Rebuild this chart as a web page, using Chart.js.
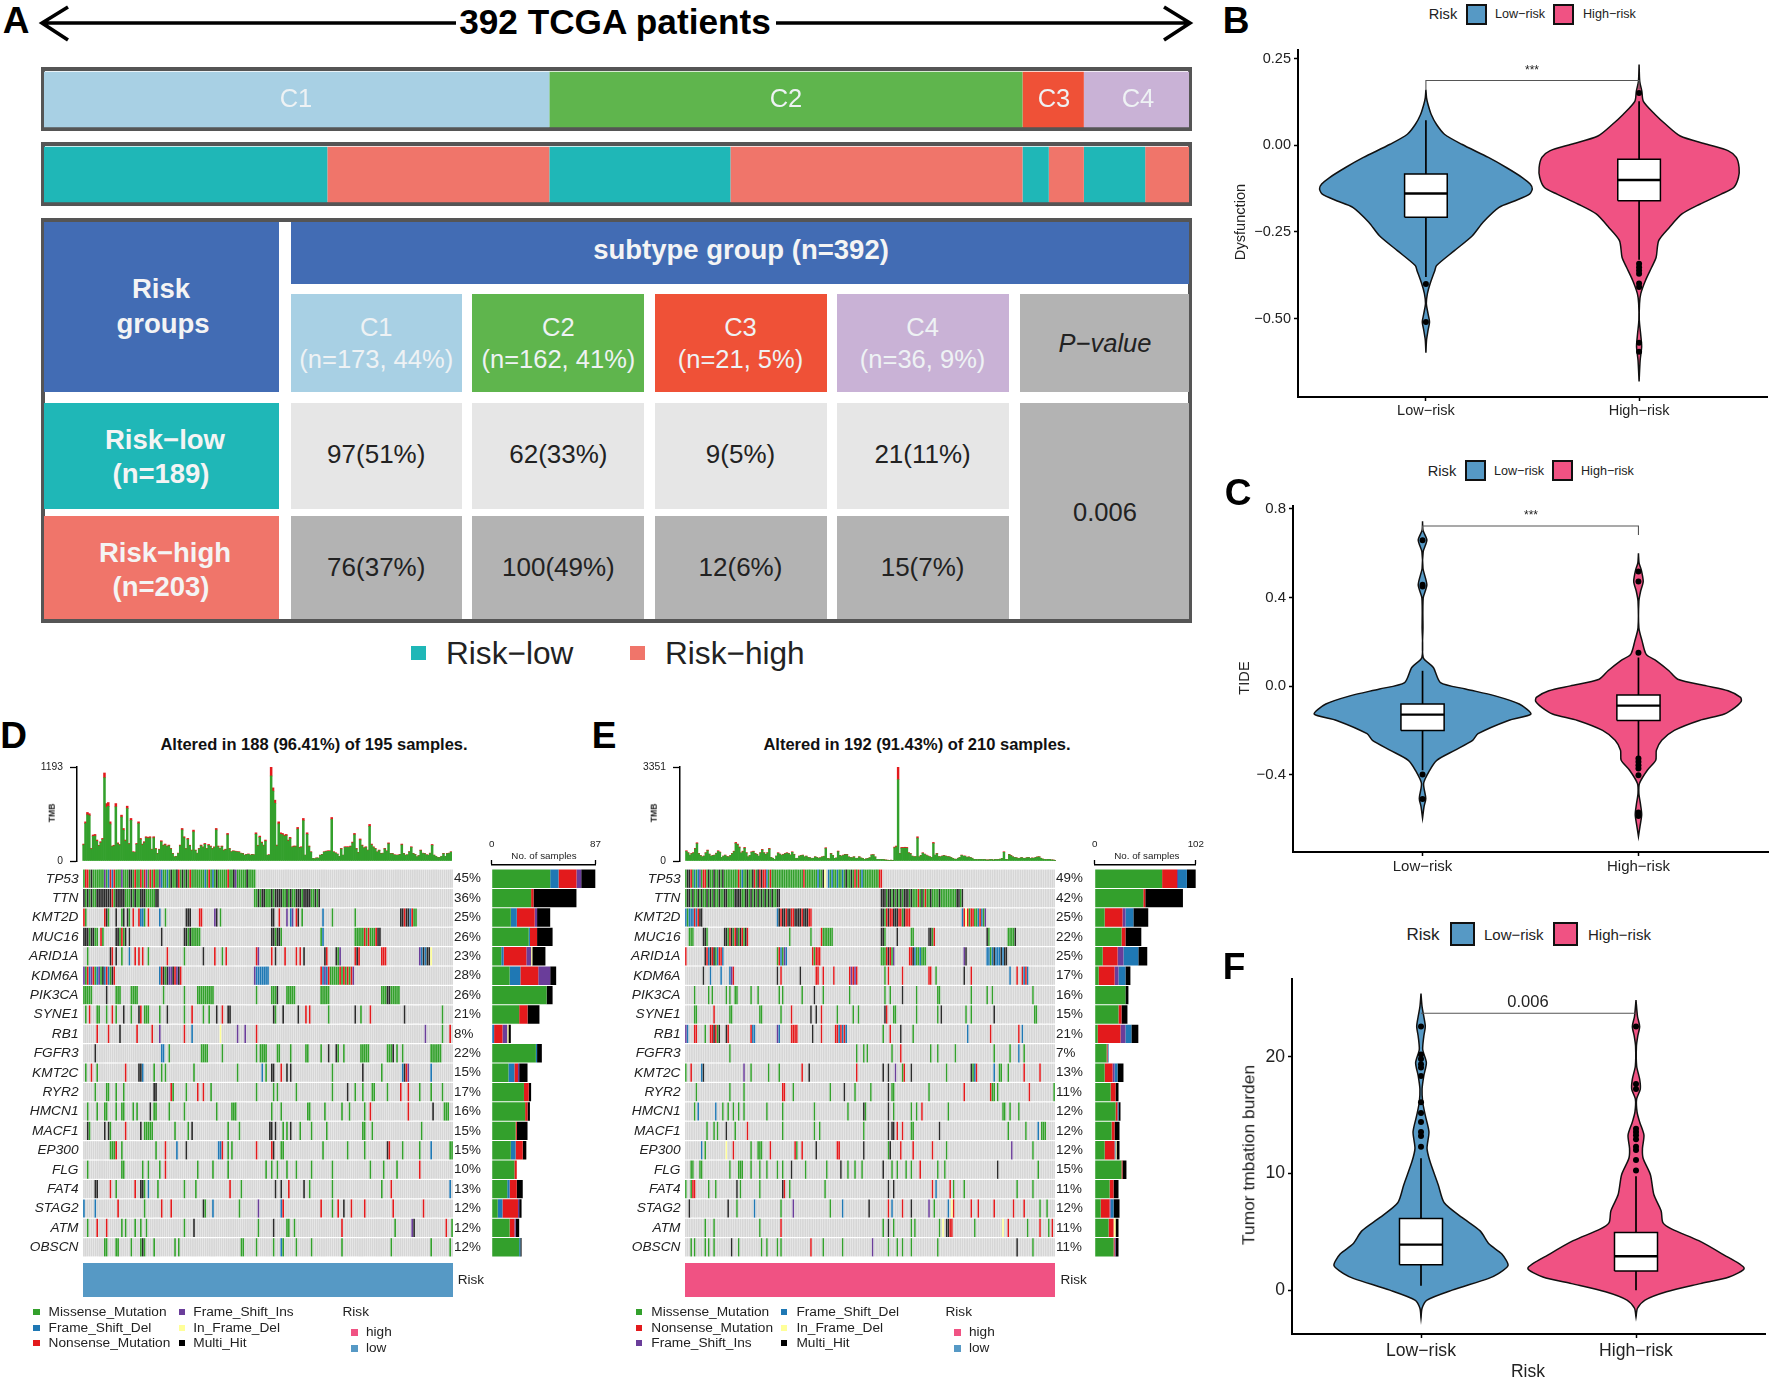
<!DOCTYPE html>
<html>
<head>
<meta charset="utf-8">
<title>Risk groups, subtypes and mutations</title>
<script src="https://cdn.jsdelivr.net/npm/chart.js@4"></script>
<style>
  html, body { margin: 0; background: #fff; }
  #page { position: relative; width: 1772px; height: 1380px; overflow: hidden; font-family: "Liberation Sans", Arial, sans-serif; }
  #page canvas { position: absolute; }
  .txt { position: absolute; white-space: nowrap; line-height: 1; color: #222; }
  .box { position: absolute; box-sizing: border-box; }
</style>
</head>
<body>
<div id="page"></div>
<script>
// ---------- panel A ----------
const subtypeNames = ['C1', 'C2', 'C3', 'C4'];
const subtypeCounts = [173, 162, 21, 36];
const riskLowCounts = [97, 62, 9, 21];
const riskHighCounts = [76, 100, 12, 15];
const subtypeHeads = ['(n=173, 44%)', '(n=162, 41%)', '(n=21, 5%)', '(n=36, 9%)'];
const lowCells = ['97(51%)', '62(33%)', '9(5%)', '21(11%)'];
const highCells = ['76(37%)', '100(49%)', '12(6%)', '15(7%)'];
const subtypeColors = ['#a8d0e4', '#5fb54d', '#ef5137', '#c9b2d6'];

// ---------- violins: y = value, w = half width in category units ----------
const dysLowY = [.161, .137, .118, .089, .060, .032, .003, -.035, -.064, -.093, -.112, -.126, -.141, -.160, -.179, -.222, -.261, -.304, -.347, -.361, -.399, -.428, -.457, -.486, -.510, -.534, -.562, -.599];
const dysLowW = [0, .003, .01, .025, .05, .087, .168, .293, .377, .452, .489, .499, .486, .419, .343, .268, .218, .134, .05, .042, .02, .007, .002, .01, .017, .01, .003, 0];
const dysLowBox = [-.380, -.208, -.139, -.083, .072];
const dysLowOut = [-.40, -.51];
const dysHighY = [.233, .185, .156, .127, .089, .060, .027, .003, -.016, -.035, -.064, -.093, -.122, -.141, -.170, -.198, -.237, -.275, -.323, -.352, -.390, -.428, -.457, -.505, -.543, -.581, -.620, -.682];
const dysHighW = [0, .003, .013, .02, .075, .126, .193, .318, .419, .456, .469, .466, .444, .385, .285, .201, .142, .092, .08, .059, .03, .008, .002, .001, .007, .012, .005, 0];
const dysHighBox = [-.33, -.160, -.100, -.040, .127];
const dysHighOut = [.151, -.342, -.352, -.361, -.371, -.399, -.409, -.570, -.596];
const dysBracket = [.161, .187, .161];

const tideLowY = [.744, .704, .659, .607, .532, .457, .398, .263, .129, .084, .016, -.013, -.043, -.081, -.126, -.155, -.215, -.245, -.290, -.335, -.380, -.439, -.507, -.544, -.596];
const tideLowW = [0, .002, .02, .003, .002, .02, .003, .002, .003, .05, .083, .199, .332, .448, .502, .398, .257, .232, .149, .066, .033, .005, .015, .007, 0];
const tideLowBox = [-.380, -.200, -.129, -.081, .069];
const tideLowOut = [.658, .457, .45, -.399, -.510];
const tideHighY = [.599, .555, .525, .472, .428, .383, .263, .203, .143, .114, .069, .031, .001, -.021, -.051, -.069, -.096, -.126, -.155, -.200, -.245, -.290, -.335, -.380, -.439, -.484, -.537, -.581, -.634, -.679];
const tideHighW = [0, .003, .013, .022, .01, .002, .002, .017, .036, .083, .141, .182, .315, .415, .473, .476, .448, .398, .282, .166, .108, .083, .08, .041, .005, .002, .01, .015, .007, 0];
const tideHighBox = [-.32, -.155, -.088, -.040, .129];
const tideHighOut = [.151, .517, .472, -.327, -.342, -.357, -.372, -.402, -.571, -.586];
const tideBracket = [.70, .723, .682];

const tmbLowY = [25.42, 24.29, 23.45, 22.6, 21.75, 20.62, 19.49, 18.36, 17.23, 16.1, 14.97, 13.56, 12.15, 11.02, 9.04, 7.49, 6.21, 5.08, 3.95, 3.11, 2.12, 1.41, .99, 0, -.85, -1.55, -2.4];
const tmbLowW = [0, .005, .013, .02, .013, .008, .025, .013, .005, .008, .02, .037, .028, .042, .08, .108, .192, .275, .317, .375, .405, .36, .312, .145, .028, .005, 0];
const tmbLowBox = [.37, 2.18, 3.9, 6.13, 11.3];
const tmbLowOut = [22.6, 20.2, 19.8, 19.35, 19.07, 18.36, 16.1, 15.17, 14.41, 13.56, 13.2, 12.29];
const tmbHighY = [24.86, 23.45, 22.6, 21.75, 20.9, 19.21, 18.08, 17.23, 16.38, 15.25, 14.41, 13.28, 12.15, 11.3, 9.89, 8.19, 6.78, 5.79, 5.23, 4.24, 3.11, 1.89, 1.13, .56, -.14, -.85, -1.55, -2.32];
const tmbHighW = [0, .007, .017, .008, .002, .003, .017, .02, .003, .005, .017, .037, .03, .033, .067, .083, .117, .125, .167, .292, .4, .503, .433, .3, .142, .042, .007, 0];
const tmbHighBox = [0, 1.64, 2.91, 4.94, 9.75];
const tmbHighOut = [22.6, 17.66, 17.23, 13.84, 13.56, 13.28, 12.94, 12.29, 12.0, 11.16, 10.25];
const tmbBracket = [23.73, 23.73, 23.73];

const riskNames = ['Low\u2212risk', 'High\u2212risk'];

// ---------- oncoplots ----------
const genes = ['TP53', 'TTN', 'KMT2D', 'MUC16', 'ARID1A', 'KDM6A', 'PIK3CA', 'SYNE1', 'RB1', 'FGFR3', 'KMT2C', 'RYR2', 'HMCN1', 'MACF1', 'EP300', 'FLG', 'FAT4', 'STAG2', 'ATM', 'OBSCN'];
const dPct = [45, 36, 25, 26, 23, 28, 26, 21, 8, 22, 15, 17, 16, 15, 15, 10, 13, 12, 12, 12];
const ePct = [49, 42, 25, 22, 25, 17, 16, 15, 21, 7, 13, 11, 12, 12, 12, 15, 11, 12, 11, 11];

// bars on the right, samples per gene and mutation class
const dSideMissense = [49, 33, 16, 31, 8, 15, 46, 23, 0, 37, 14, 27, 28, 20, 16, 19, 13, 5, 15, 23];
const dSideFrameDel = [7, 0, 5, 1, 2, 9, 0, 0, 2, 1, 5, 0, 0, 0, 4, 0, 2, 4, 0, 1];
const dSideNonsense = [15, 2, 15, 6, 19, 15, 0, 7, 7, 0, 3, 4, 2, 1, 6, 2, 6, 13, 4, 0];
const dSideFrameIns = [4, 0, 2, 0, 4, 10, 0, 0, 4, 0, 1, 0, 0, 0, 0, 0, 0, 1, 1, 0];
const dSideInFrame = [0, 0, 0, 0, 1, 0, 0, 0, 1, 0, 0, 0, 0, 0, 0, 0, 0, 0, 0, 0];
const dSideMulti = [12, 36, 11, 13, 11, 5, 5, 10, 2, 4, 7, 2, 2, 9, 3, 0, 5, 2, 3, 1];
const eSideMissense = [68, 49, 10, 27, 8, 4, 31, 24, 3, 12, 10, 16, 21, 17, 10, 27, 15, 6, 14, 19];
const eSideNonsense = [15, 2, 18, 4, 15, 16, 0, 3, 23, 1, 8, 5, 2, 3, 10, 1, 4, 9, 5, 1];
const eSideFrameIns = [1, 0, 3, 0, 6, 4, 0, 0, 5, 0, 2, 0, 0, 0, 0, 0, 0, 1, 0, 1];
const eSideFrameDel = [9, 0, 8, 0, 15, 7, 0, 0, 6, 1, 3, 0, 1, 0, 1, 0, 0, 3, 0, 0];
const eSideInFrame = [0, 0, 0, 0, 0, 0, 0, 0, 0, 0, 0, 0, 0, 0, 1, 0, 0, 0, 2, 0];
const eSideMulti = [9, 38, 15, 16, 9, 5, 3, 6, 7, 0, 6, 3, 2, 5, 3, 4, 5, 6, 3, 3];

// mutation burden per sample
const dTmbTotal = [215,497,616,600,160,330,337,266,200,245,287,1117,729,742,497,190,200,729,230,210,582,413,266,696,223,540,118,115,223,497,287,215,245,308,300,308,150,308,160,97,150,257,202,215,190,202,160,97,55,60,100,202,413,308,160,287,200,139,392,139,100,160,202,180,223,160,210,190,160,180,413,190,160,190,139,150,350,160,120,130,125,120,118,100,97,76,85,90,76,85,80,358,200,316,240,202,266,76,80,1193,928,772,202,497,358,350,330,337,266,300,181,190,190,426,175,181,540,76,358,190,118,34,30,40,38,76,85,118,125,130,130,552,118,105,90,60,160,76,181,181,181,190,240,350,160,110,280,202,170,181,140,464,215,181,160,118,139,97,100,160,130,230,97,97,80,76,76,85,215,97,76,80,120,181,97,85,55,70,139,100,97,80,76,100,210,76,60,46,46,60,97,60,97,100,118];
const dTmbNonsense = [12,22,30,25,10,18,20,15,10,15,15,60,50,48,28,10,10,42,12,10,25,22,15,30,12,25,8,8,12,22,15,12,14,15,15,15,8,15,10,6,8,14,10,12,10,10,8,6,4,4,6,10,20,15,8,14,10,8,22,8,6,8,10,10,12,8,12,10,8,10,20,10,8,10,8,8,18,8,6,6,6,6,6,5,5,4,5,5,4,5,4,18,10,16,12,10,14,4,4,114,42,40,12,26,18,18,16,16,14,15,10,10,10,22,9,10,28,4,20,10,6,3,3,3,3,4,5,6,6,7,7,25,6,6,5,4,8,4,10,10,10,10,12,18,8,6,14,10,8,10,7,24,12,10,8,6,7,5,5,8,7,12,5,5,4,4,4,5,12,5,4,4,6,10,5,5,3,4,8,5,5,4,4,5,12,4,3,3,3,3,5,3,5,5,6];
const eTmbTotal = [367,300,213,272,300,450,651,272,200,154,180,300,390,250,178,200,213,280,367,320,130,180,213,160,154,200,272,350,663,604,500,296,350,485,300,154,200,331,350,272,240,178,300,414,300,237,300,450,130,100,59,180,296,250,213,240,272,296,272,220,330,240,95,100,178,200,213,150,178,130,120,95,100,154,130,100,120,150,170,474,95,80,272,200,95,110,355,200,180,213,237,237,150,130,120,154,95,100,154,110,95,60,80,95,120,225,230,150,59,60,59,60,50,36,30,24,30,24,497,533,3351,272,485,485,490,485,300,272,178,154,160,864,154,200,296,250,213,180,154,130,663,213,272,160,154,178,200,178,160,154,130,95,70,59,100,130,213,180,178,130,150,130,100,59,60,50,59,60,50,59,40,36,50,59,36,59,50,59,70,95,331,59,50,237,200,154,130,120,95,100,130,100,95,120,130,95,110,100,130,150,154,100,70,59,50,60,59,40,36,24];
const eTmbNonsense = [25,20,15,18,20,25,35,18,12,10,12,18,25,15,10,12,14,18,25,20,8,12,14,10,10,12,18,22,40,35,30,18,22,30,18,10,12,20,22,18,15,10,18,25,18,15,18,28,8,6,4,10,18,15,14,15,18,18,18,14,20,15,6,6,10,12,14,10,10,8,8,6,6,10,8,6,8,10,10,30,6,5,18,12,6,7,22,12,10,14,15,15,10,8,8,10,6,6,10,7,6,4,5,6,8,14,14,10,4,4,4,4,3,3,2,2,2,2,30,32,450,18,30,30,30,30,18,18,10,10,10,50,10,12,18,15,14,10,10,8,40,14,18,10,10,10,12,10,10,10,8,6,5,4,6,8,14,10,10,8,10,8,6,4,4,3,4,4,3,4,3,3,3,4,3,4,3,4,5,6,20,4,3,15,12,10,8,8,6,6,8,6,6,8,8,6,7,6,8,10,10,6,5,4,3,4,4,3,2,2];

// mutated samples per gene, "start:classes", m missense, f frame del, n nonsense, i frame ins, d in frame, h multi hit
const dRows = [
  '0:mnnmhmmmmmmimfnfnmmmimmmhhmnmmnmnimnmnmmifmmfmhmmhnmhmhmnmmmmmmmfmnmfmhmmmmmnmmhimmmmmhmmmm',
  '0:hmhmhmmhhhhhhhhnmhhhhhmmmhmhmmhhhmmmmmhh 90:mmhmhhmmmhmhhhhmmhmhmmhhhmhhhhmmhmh',
  '0:nm 11:nhm 17:h 20:mh 23:hm 26:n 29:nff 32:m 34:n 40:f 43:m 54:hhh 61:nn 69:ih 72:m 99:hh 103:n 107:i 109:fi 112:nh 115:m 126:f 131:m 143:m 167:hhnhhfnmm',
  '0:hhhmhhmm.nm 17:hhmnmh 24:h 41:h 53:hhmhmmmmm 99:hhmhhm 125:mf 143:mmmmmnmnmmmnhh',
  '2:m 14:hn 17:h 20:m 24:f 27:n 29:n 31:n 34:m 44:n 53:m 63:h 69:n 73:m.n 91:ni 99:n 101:h 106:n 112:n 114:n 116:h 127:hn 133:hmi 143:nhn 157:nnn 177:ifhfhhd',
  '0:imnfinmfimhfnfmhn 40:fnhmhiihnihn 90:ifffffff 125:nfifnmmmmmnmnmnmni',
  '0:mmmmm 12:h 17:mmm 25:mmmm 42:m 53:m 60:mmmmmmmmm 91:m 99:mmmh 107:mmmmm 125:mmmmm 157:mmmhhmmmmm',
  '1:m 3:n 7:mm 12:m 15:n 17:m 21:h 25:m 29:hn 32:mm 34:m 40:m 44:h 53:m 57:n 63:m 66:m 70:h 73:n 76:hh 100:hm 105:h 113:h 117:n 119:n 129:m 143:h 146:m 151:n 169:h 189:m',
  '7:n 13:n 19:h 28:n 36:n 40:i 53:n 57:f 72:d 81:i 85:i 91:n 180:i 189:m 193:n',
  '6:h 41:ff 45:m 62:mmmm 73:m 91:m 93:mmmm 102:mm 109:m 117:mm 125:m 129:h 133:hm 137:m 146:mmmmm 160:mmmh 165:m 168:m 183:mmmmmm',
  '1:m 4:n 7:m 22:n 29:hhf 37:m 41:m 43:m 58:m 81:m 94:f 96:m 99:hh 104:n 107:h 109:h 131:m 147:h 157:m 168:fhni 183:f',
  '6:m 12:mm 17:m 21:m 37:hh 46:nm 54:m 60:n 63:n 67:m 91:m 100:m 102:m 112:m 131:m 139:h 143:m 147:m 152:mm 160:m 167:n 171:n 177:m 183:m 189:m',
  '2:m 7:m 11:mm 17:m 20:mm 26:m 28:m 35:h 37:mm 45:m 53:m 70:m 78:mmm 99:m 104:m 118:mm 127:m 136:m 140:m 148:m 151:n 171:n 184:h 190:mmm',
  '2:hm 11:h 13:hm 22:n 30:h 32:mmmmm 48:m 55:m 57:h 76:m 82:m 98:hh 101:h 105:m 107:m 109:h 114:m 120:m 128:m 147:mm 152:m 178:m',
  '14:mmmn 20:m 38:m 43:n 49:f 54:h 71:ffn 76:m 78:m 91:n 99:nh 104:mm 126:m 139:m 148:m 160:hn 168:m 177:m 183:f 193:mm',
  '2:m 20:mm 31:m 34:m 40:m 43:n 60:m 68:m 76:m 96:m 99:m 102:m 107:m 112:m 120:m 131:m 151:m 158:m 165:m 177:n',
  '6:hh 14:n 17:m 27:n 30:hhm 34:f 39:m 53:m 59:m 77:n 83:m 101:h 104:h 108:n 116:h 119:m 131:m 157:m 162:n 193:f',
  '0:f 6:f 18:n 32:m 41:n 46:n 63:hm 68:f 82:m 92:i 104:f 105:n 125:n 131:m 134:n 137:h 141:n 148:n 163:n 179:n',
  '2:m 7:n 12:n 20:m 22:m 27:m 30:m 33:m 53:m 58:h 92:m 100:h 107:mm 111:m 136:n 164:m 173:ih 191:n 194:m',
  '11:mm 17:mm 25:m 30:mhm 37:m 48:m 50:m 83:mm 91:m 100:m 104:fm 112:m 120:m 136:m 162:m 183:m 193:m'
];
const eRows = [
  '0:mhhnmfmfimnnmhmmhmmhmhmmmmmmmmnmfmmhmmhnmhnhnnfmnmmmmmmmmmmmmmmmmmmnmmmmmmmfmmhd.fmfmmfmmfmhmmhmnmnmfmmmmmmmmmnn',
  '0:mhhmhmmhmhmmhmhmhmmhmmhhmmmmhhhhmmhhmhmhmhmhmhmhmhmmhh 111:hhhmhhmhmhmhmhhhmhmmmnmhmnmmhmmmmhmmmmmmmmmhhmh',
  '0:fmfffnfnhh 52:fhnhhnhhnnhhhhnhhhnn 111:hhmnhnnhhhnnmhnnn 157:fndnmnnmmfnfmi',
  '2:mmm 10:hhm 22:hhmnhmnhmhnmhn 59:m 71:m 77:nmmmmmm 111:hhm 120:h 128:mm 138:hhmn 171:hm 183:mmmmh',
  '0:n 11:hnfhnhmfnnf 52:mnfmif 72:nmnnn 111:mmmnhnmi 127:nnhfmmfmmm 158:ih 171:ffmfhfffhfhh',
  '10:h 14:f 20:f 25:fin 52:h 54:n 65:h 74:nn 78:n 84:n 93:ninin 113:m 115:n 123:n 138:nn 142:m 158:h 162:n 184:f 188:n 191:nfnf',
  '5:m 13:m 15:m 23:m 25:m 28:mm 37:m 41:m 53:m 55:m 66:m 73:h 78:m 93:m 113:m 116:m 123:h 131:m 143:mm 162:m 171:m 174:m 197:m',
  '5:mm 16:n 25:mm 42:mm 54:m 60:n 71:h 74:h 77:n 86:m 95:m 98:m 113:hn 118:mm 131:m 143:m 145:h 159:m 162:m 175:h 198:mm',
  '0:if 5:nn 11:m 14:nnhnmh 23:hn 37:nff 52:if 60:nnnn 72:h 77:n 85:nnfnfnf 112:m 116:n 122:h 129:m 160:f 173:n 189:n 191:f',
  '25:m 97:m 101:m 103:m 117:m 122:n 139:m 143:m 153:m 175:m 184:m 189:f 192:m',
  '0:m 3:n 9:fh 33:i 37:m 47:m 53:m 66:n 70:h 97:n 112:h 115:h 119:i 123:mn 128:h 148:m 162:hmfn 175:f 178:mm 183:m 192:n 201:n',
  '6:m 25:m 33:m 55:nn 61:m 82:m 90:h 96:m 105:m 115:h 117:mm 138:m 158:n 173:n 174:mm 177:m 195:n 209:m',
  '5:m 7:f 17:f 21:m 24:m 27:m 30:m 33:m 46:m 55:m 73:m 92:m 101:hm 115:h 118:m 128:m 131:m 134:n 149:m 180:mm 184:m 189:m',
  '12:m 16:m 18:m 23:h 28:m 35:n 55:m 73:m 76:m 101:m 115:h 117:hh 120:n 123:n 128:mm 144:h 183:m 193:m 200:f 202:mmm',
  '9:f 11:m 23:d 27:n 37:m 41:mmm 48:n 62:nm 66:n 74:h 86:nn 101:h 115:mh 122:n 129:n 140:n 148:m 185:i 197:m',
  '3:mm 8:mm 25:m 30:mmm 37:m 42:m 46:m 52:m 55:m 60:h 68:m 80:m 88:h 92:m 96:m 100:m 112:h 117:m 120:m 125:m 128:m 133:n 143:m 147:m 177:h 200:m',
  '0:m 3:mnn 13:m 17:m 29:h 31:m 42:m 55:hn 59:m 79:m 115:h 118:h 140:n 142:f 150:n 152:m 158:m 188:m 197:m',
  '2:h 24:h 29:m 39:f 54:m 61:i 82:m 89:f 104:h 115:n 117:f 123:n 128:h 138:i 141:m 149:f 151:dn 162:n 166:n 175:n 186:n 192:n 201:m 205:m',
  '11:m 16:m 42:m 54:n 112:m 115:h 118:m 128:m 130:m 144:m 146:d 148:hh 150:nn 164:m 180:d 183:n 194:m 201:n 206:m 208:n',
  '3:m 5:m 11:m 13:m 16:m 26:h 30:m 43:m 46:m 52:m 54:m 71:n 78:m 89:m 106:i 115:m 120:m 123:m 128:m 143:m 188:h 197:m'
];
const dSampleCount = 195;
const eSampleCount = 210;

// ---------- helpers ----------
const page = document.getElementById('page');
const blue = '#5699c5', pink = '#f05283';
const cellColors = { m: '#33a02c', f: '#1f78b4', n: '#e31a1c', i: '#6a3d9a', d: '#ffff99', h: '#2a2a2a' };
const classColors = { m: '#33a02c', f: '#1f78b4', n: '#e31a1c', i: '#6a3d9a', d: '#ffff99', h: '#000000' };

Chart.defaults.font.family = '"Liberation Sans", Arial, sans-serif';
Chart.defaults.color = '#222';

function label(text, x, y, o) {
  o = o || {};
  const d = document.createElement('div');
  d.className = 'txt';
  d.textContent = text;
  d.style.left = x + 'px';
  d.style.top = y + 'px';
  d.style.fontSize = (o.size || 14) + 'px';
  if (o.bold) d.style.fontWeight = 'bold';
  if (o.italic) d.style.fontStyle = 'italic';
  if (o.color) d.style.color = o.color;
  const shift = o.align === 'l' ? '0' : o.align === 'r' ? '-100%' : '-50%';
  d.style.transform = 'translate(' + shift + ',-50%)' + (o.rotate ? ' rotate(-90deg)' : '');
  page.appendChild(d);
}

function rect(x0, y0, x1, y1, color, border) {
  const d = document.createElement('div');
  d.className = 'box';
  d.style.left = x0 + 'px';
  d.style.top = y0 + 'px';
  d.style.width = (x1 - x0) + 'px';
  d.style.height = (y1 - y0) + 'px';
  d.style.background = color;
  if (border) d.style.border = border;
  page.appendChild(d);
}

// plot area is x0..x1, y0..y1; m = [left, top, right, bottom] space around it, axes = sides taken by axes
function addChart(x0, y0, x1, y1, m, axes, config) {
  const c = document.createElement('canvas');
  c.width = Math.round(x1 - x0 + m[0] + m[2]);
  c.height = Math.round(y1 - y0 + m[1] + m[3]);
  c.style.left = (x0 - m[0]) + 'px';
  c.style.top = (y0 - m[1]) + 'px';
  page.appendChild(c);
  const o = config.options;
  o.responsive = false;
  o.animation = false;
  o.plugins = { legend: { display: false }, tooltip: { enabled: false } };
  o.layout = { padding: {
    left: axes.includes('l') ? 0 : m[0],
    top: axes.includes('t') ? 0 : m[1],
    right: axes.includes('r') ? 0 : m[2],
    bottom: axes.includes('b') ? 0 : m[3]
  } };
  return new Chart(c, config);
}

function hidden(extra) {
  return Object.assign({ display: false, grid: { display: false }, offset: false }, extra || {});
}

// ---------- panel A ----------
label('A', 16, 19.5, { size: 37, bold: true, color: '#000' });
label('392 TCGA patients', 615, 22, { size: 35.2, bold: true, color: '#000' });
page.insertAdjacentHTML('beforeend',
  '<svg style="position:absolute;left:0;top:0" width="1220" height="50" fill="none" stroke="#000" stroke-width="3.6">' +
  '<path d="M42 23H456M776 23H1190M68 7L42 23L68 40M1164 7L1190 23L1164 40"/></svg>');

rect(40.5, 67, 1192, 130.5, '#fff', '4px solid #555');
rect(40.5, 142, 1192, 205.5, '#fff', '4px solid #555');
rect(40.5, 217.7, 1192, 623, '#fff', '4px solid #555');

const barSets = [];
subtypeCounts.forEach((n, i) => barSets.push({ data: [n, null], backgroundColor: subtypeColors[i] }));
riskLowCounts.forEach((n, i) => {
  barSets.push({ data: [null, n], backgroundColor: '#1fb7b7' });
  barSets.push({ data: [null, riskHighCounts[i]], backgroundColor: '#f0756a' });
});
barSets.forEach(d => { d.barPercentage = 0.737; d.categoryPercentage = 1; });
addChart(44.4, 61.6, 1189, 211.2, [0, 0, 0, 0], '', {
  type: 'bar',
  data: { labels: ['subtype', 'risk'], datasets: barSets },
  options: {
    indexAxis: 'y',
    scales: {
      x: { display: false, stacked: true, min: 0, max: 392 },
      y: { display: false, stacked: true }
    }
  }
});
const paleText = '#eef2f4';
[296, 786, 1054, 1138].forEach((x, i) => label(subtypeNames[i], x, 99, { size: 25.5, color: paleText }));

rect(44.4, 221.6, 279.4, 392.4, '#426cb4');
rect(291, 221.6, 1189, 284, '#426cb4');
rect(44.4, 402.9, 279.4, 509, '#1fb7b7');
rect(44.4, 516, 279.4, 619, '#f0756a');
const colX = [[291, 461.5], [472.4, 644.4], [654.5, 826.5], [836.6, 1008.6]];
colX.forEach((c, i) => {
  const mid = (c[0] + c[1]) / 2;
  rect(c[0], 294.4, c[1], 392.4, subtypeColors[i]);
  rect(c[0], 402.9, c[1], 509, '#e6e6e6');
  rect(c[0], 516, c[1], 619, '#b3b3b3');
  label(subtypeNames[i], mid, 328, { size: 25.5, color: paleText });
  label(subtypeHeads[i], mid, 360, { size: 25.5, color: paleText });
  label(lowCells[i], mid, 454, { size: 26 });
  label(highCells[i], mid, 567, { size: 26 });
});
rect(1019.5, 294.4, 1189, 392.4, '#b3b3b3');
rect(1019.5, 402.9, 1189, 619, '#b3b3b3');
label('P\u2212value', 1105, 344, { size: 25.5, italic: true });
label('0.006', 1105, 512.6, { size: 25.5 });
label('subtype group (n=392)', 741, 250, { size: 27.5, bold: true, color: '#f4f4f4' });
label('Risk', 161, 289, { size: 27.5, bold: true, color: '#f4f4f4' });
label('groups', 163, 324, { size: 27.5, bold: true, color: '#f4f4f4' });
label('Risk\u2212low', 165, 440, { size: 27.5, bold: true, color: '#f4f4f4' });
label('(n=189)', 161, 473.6, { size: 27.5, bold: true, color: '#f4f4f4' });
label('Risk\u2212high', 165, 553, { size: 27.5, bold: true, color: '#f4f4f4' });
label('(n=203)', 161, 587, { size: 27.5, bold: true, color: '#f4f4f4' });
rect(411, 646, 426, 660, '#1fb7b7');
label('Risk\u2212low', 446, 654, { size: 31.6, align: 'l' });
rect(630, 646, 645, 660, '#f0756a');
label('Risk\u2212high', 665, 654, { size: 31.6, align: 'l' });

// ---------- violins ----------
function violinSets(pos, ys, ws, box, outs, color) {
  const outline = [];
  ys.forEach((y, i) => outline.push({ x: pos - ws[i], y: y }));
  for (let i = ys.length - 1; i >= 0; i--) outline.push({ x: pos + ws[i], y: ys[i] });
  const hw = 0.1;
  const line = { showLine: true, pointRadius: 0, fill: false, tension: 0 };
  return [
    Object.assign({}, line, { data: outline, order: 6, fill: 'shape', backgroundColor: color, borderColor: '#111', borderWidth: 1.5, tension: 0.25 }),
    Object.assign({}, line, { data: [{ x: pos, y: box[0] }, { x: pos, y: box[4] }], order: 5, borderColor: '#000', borderWidth: 1.7 }),
    Object.assign({}, line, { data: [{ x: pos - hw, y: box[1] }, { x: pos + hw, y: box[1] }, { x: pos + hw, y: box[3] }, { x: pos - hw, y: box[3] }, { x: pos - hw, y: box[1] }], order: 4, fill: 'shape', backgroundColor: '#fff', borderColor: '#000', borderWidth: 1.5 }),
    Object.assign({}, line, { data: [{ x: pos - hw, y: box[2] }, { x: pos + hw, y: box[2] }], order: 3, borderColor: '#000', borderWidth: 2.4 }),
    { data: outs.map(v => ({ x: pos, y: v })), order: 2, pointRadius: 3, backgroundColor: '#000', borderWidth: 0 }
  ];
}

function violinChart(x0, y0, x1, y1, yMin, yMax, yTicks, digits, fontSize, xPad, bracket, sets) {
  const brk = { showLine: true, pointRadius: 0, fill: false, tension: 0, order: 1, borderColor: '#555', borderWidth: 1.1,
    data: [{ x: 1, y: bracket[0] }, { x: 1, y: bracket[1] }, { x: 2, y: bracket[1] }, { x: 2, y: bracket[2] }] };
  const tickGrid = { drawOnChartArea: false, tickLength: 4, tickColor: '#000', tickWidth: 1.5 };
  const edge = { color: '#000', width: 2 };
  addChart(x0, y0, x1, y1, [54, 10, 4, 36], 'lb', {
    type: 'scatter',
    data: { datasets: sets.concat([brk]) },
    options: {
      scales: {
        x: {
          type: 'linear', min: 0.4, max: 2.6, grid: tickGrid, border: edge,
          ticks: { font: { size: fontSize }, color: '#222', padding: xPad, maxRotation: 0, callback: v => riskNames[v - 1] },
          afterBuildTicks: a => { a.ticks = [{ value: 1 }, { value: 2 }]; },
          afterFit: a => { a.height = 36; }
        },
        y: {
          min: yMin, max: yMax, grid: tickGrid, border: edge,
          ticks: { font: { size: fontSize }, color: '#222', padding: 3, callback: v => v.toFixed(digits).replace('-', '\u2212') },
          afterBuildTicks: a => { a.ticks = yTicks.map(v => ({ value: v })); },
          afterFit: a => { a.width = 54; }
        }
      }
    }
  });
}

function riskLegend(y, h, riskX, riskSize, sw1, sw2, t1, t2, w, size) {
  label('Risk', riskX, y, { size: riskSize });
  rect(sw1, y - h, sw1 + w, y + h, blue, '2px solid #111');
  label(riskNames[0], t1, y, { size: size, align: 'l' });
  rect(sw2, y - h, sw2 + w, y + h, pink, '2px solid #111');
  label(riskNames[1], t2, y, { size: size, align: 'l' });
}

label('B', 1236, 19.5, { size: 37, bold: true, color: '#000' });
riskLegend(14, 10.5, 1443, 14.6, 1466, 1553, 1495, 1583, 21, 12.6);
violinChart(1297.8, 48, 1767, 397, -.7265, .276, [-.5, -.25, 0, .25], 2, 14.5, 1, dysBracket,
  violinSets(1, dysLowY, dysLowW, dysLowBox, dysLowOut, blue).concat(violinSets(2, dysHighY, dysHighW, dysHighBox, dysHighOut, pink)));
label('Dysfunction', 1240, 222, { size: 14.6, rotate: true });
label('***', 1532, 70, { size: 12 });

label('C', 1238, 491.7, { size: 37, bold: true, color: '#000' });
riskLegend(470.7, 10.5, 1442, 14.6, 1465, 1552, 1494, 1581, 21, 12.6);
violinChart(1293.3, 504, 1768.6, 852.3, -.749, .813, [-.4, 0, .4, .8], 1, 15, 2, tideBracket,
  violinSets(1, tideLowY, tideLowW, tideLowBox, tideLowOut, blue).concat(violinSets(2, tideHighY, tideHighW, tideHighBox, tideHighOut, pink)));
label('TIDE', 1244, 678, { size: 14.6, rotate: true });
label('***', 1531, 515, { size: 12 });

label('F', 1234, 966, { size: 37, bold: true, color: '#000' });
riskLegend(934.3, 12, 1423, 17, 1450, 1553, 1484, 1588, 25, 15);
violinChart(1291.6, 975, 1764.4, 1334.3, -3.757, 26.7, [0, 10, 20], 0, 17.6, 3, tmbBracket,
  violinSets(1, tmbLowY, tmbLowW, tmbLowBox, tmbLowOut, blue).concat(violinSets(2, tmbHighY, tmbHighW, tmbHighBox, tmbHighOut, pink)));
label('Tumor tmbation burden', 1248.7, 1155, { size: 17.4, rotate: true });
label('0.006', 1528, 1000.7, { size: 16.5 });
label('Risk', 1528, 1371.7, { size: 17.5 });

// ---------- oncoplots ----------
function parseRow(row, count) {
  const cells = new Array(count).fill('');
  row.split(' ').forEach(tok => {
    const parts = tok.split(':');
    const start = parseInt(parts[0], 10);
    for (let i = 0; i < parts[1].length; i++) {
      if (parts[1][i] !== '.' && start + i < count) cells[start + i] = parts[1][i];
    }
  });
  return cells;
}

function oncoplot(cfg) {
  const n = cfg.count, px0 = cfg.x0, px1 = cfg.x1;
  const samples = [];
  for (let i = 0; i < n; i++) samples.push(String(i + 1));

  // burden bars on top, the axis sits a little left of the first sample
  const perSample = (px1 - px0) / n;
  const gap = (px0 - cfg.axisX) / perSample;
  const pick = (arr, minus) => samples.map((s, i) => ({ x: i, y: minus ? arr[i] - (minus[i] || 0) : (arr[i] || 0) }));
  addChart(cfg.axisX, 766.7, px1, 861, [40, 14, 2, 14], 'l', {
    type: 'bar',
    data: { datasets: [
      { data: pick(cfg.tmb, cfg.tmbRed), backgroundColor: classColors.m, barPercentage: 1, categoryPercentage: 1 },
      { data: pick(cfg.tmbRed), backgroundColor: classColors.n, barPercentage: 1, categoryPercentage: 1 }
    ] },
    options: {
      scales: {
        x: hidden({ type: 'linear', min: -0.5 - gap, max: n - 0.5, stacked: true }),
        y: {
          stacked: true, min: 0, max: cfg.tmbMax,
          grid: { drawOnChartArea: false, tickLength: 7, tickColor: '#000', tickWidth: 1.3 },
          border: { color: '#000', width: 1.5 },
          ticks: { font: { size: 10.3 }, color: '#222', padding: 7, callback: v => String(v) },
          afterBuildTicks: a => { a.ticks = [{ value: 0 }, { value: cfg.tmbMax }]; },
          afterFit: a => { a.width = 40; }
        }
      }
    }
  });
  label('TMB', cfg.tmbLabelX, 813, { size: 8.6, bold: true, rotate: true });
  label(cfg.title, cfg.titleX, 744, { size: 16.5, bold: true, color: '#111' });

  // gene by sample grid, one dataset per gene, one colour per sample
  const rowSets = cfg.rows.map((row, g) => {
    const cells = parseRow(row, n);
    return {
      data: samples.map(() => [g - 0.47, g + 0.47]),
      backgroundColor: cells.map(c => c ? cellColors[c] : '#d6d6d6'),
      borderWidth: 0, barPercentage: 0.88, categoryPercentage: 1, grouped: false
    };
  });
  addChart(px0, 869, px1, 1256.7, [80, 14, 40, 14], 'lr', {
    type: 'bar',
    data: { labels: samples, datasets: rowSets },
    options: {
      scales: {
        x: { display: false, grid: { display: false } },
        y: {
          reverse: true, min: -0.5, max: 19.5, position: 'left',
          grid: { display: false, drawTicks: false }, border: { display: false },
          ticks: { autoSkip: false, padding: 4.5, font: { size: 13.7, style: 'italic' }, color: '#222', callback: v => genes[v] },
          afterBuildTicks: a => { a.ticks = genes.map((g, i) => ({ value: i })); },
          afterFit: a => { a.width = 80; }
        },
        y2: {
          reverse: true, min: -0.5, max: 19.5, position: 'right',
          grid: { display: false, drawTicks: false }, border: { display: false },
          ticks: { autoSkip: false, padding: 1, font: { size: 13.4 }, color: '#222', callback: v => cfg.pct[v] + '%' },
          afterBuildTicks: a => { a.ticks = genes.map((g, i) => ({ value: i })); },
          afterFit: a => { a.width = 40; }
        }
      }
    }
  });

  // mutation classes per gene on the right
  addChart(cfg.sideX0, 865, cfg.sideX1, 1256.7, [12, 26, 14, 2], 't', {
    type: 'bar',
    data: { datasets: cfg.side.map(s => ({
      data: s.values.map((v, g) => ({ x: v, y: g })),
      backgroundColor: classColors[s.key], barPercentage: 0.95, categoryPercentage: 1
    })) },
    options: {
      indexAxis: 'y',
      scales: {
        x: {
          position: 'top', stacked: true, min: 0, max: cfg.sideMax,
          grid: { drawOnChartArea: false, tickLength: 5, tickColor: '#000', tickWidth: 1.3 },
          border: { color: '#000', width: 1.5 },
          ticks: { font: { size: 9.8 }, color: '#222', padding: 10, maxRotation: 0, callback: v => String(v) },
          afterBuildTicks: a => { a.ticks = [{ value: 0 }, { value: cfg.sideMax }]; },
          afterFit: a => { a.height = 26; }
        },
        y: hidden({ type: 'linear', reverse: true, min: -0.706, max: 19.5, stacked: true })
      }
    }
  });
  label('No. of samples', (cfg.sideX0 + cfg.sideX1) / 2, 856, { size: 9.8 });

  // risk annotation strip
  addChart(px0, 1262.7, px1, 1296.7, [0, 0, 0, 0], '', {
    type: 'bar',
    data: { labels: ['Risk'], datasets: [{ data: [n], backgroundColor: cfg.stripColor, barPercentage: 1, categoryPercentage: 1 }] },
    options: {
      indexAxis: 'y',
      scales: { x: { display: false, min: 0, max: n }, y: { display: false } }
    }
  });
  label('Risk', px1 + 5, 1280, { size: 13.6, align: 'l' });

  // class legend
  const rowsY = [1312, 1327.7, 1343];
  cfg.legend.forEach((col, c) => {
    col.forEach((e, r) => {
      rect(cfg.legendSq[c], rowsY[r] - 3.2, cfg.legendSq[c] + 6.4, rowsY[r] + 3.2, classColors[e[0]]);
      label(e[1], cfg.legendTx[c], rowsY[r], { size: 13.7, align: 'l' });
    });
  });
  label('Risk', cfg.riskX, 1312, { size: 13.6, align: 'l' });
  rect(cfg.riskX + 8.5, 1329, cfg.riskX + 15, 1335.5, pink);
  label('high', cfg.riskX + 23.5, 1332.3, { size: 13.6, align: 'l' });
  rect(cfg.riskX + 8.5, 1345, cfg.riskX + 15, 1351.5, blue);
  label('low', cfg.riskX + 23.5, 1348.3, { size: 13.6, align: 'l' });
}

label('D', 13.5, 735, { size: 37, bold: true, color: '#000' });
oncoplot({
  title: 'Altered in 188 (96.41%) of 195 samples.', titleX: 314, count: dSampleCount,
  x0: 83, x1: 452.7, axisX: 77.3, tmb: dTmbTotal, tmbRed: dTmbNonsense, tmbMax: 1193, tmbLabelX: 51.7,
  rows: dRows, pct: dPct, sideX0: 491, sideX1: 597, sideMax: 87, stripColor: blue,
  side: [
    { key: 'm', values: dSideMissense }, { key: 'f', values: dSideFrameDel }, { key: 'n', values: dSideNonsense },
    { key: 'i', values: dSideFrameIns }, { key: 'd', values: dSideInFrame }, { key: 'h', values: dSideMulti }
  ],
  legend: [
    [['m', 'Missense_Mutation'], ['f', 'Frame_Shift_Del'], ['n', 'Nonsense_Mutation']],
    [['i', 'Frame_Shift_Ins'], ['d', 'In_Frame_Del'], ['h', 'Multi_Hit']]
  ],
  legendSq: [33.3, 178.7], legendTx: [48.6, 193.3], riskX: 342.5
});

label('E', 604, 735, { size: 37, bold: true, color: '#000' });
oncoplot({
  title: 'Altered in 192 (91.43%) of 210 samples.', titleX: 917, count: eSampleCount,
  x0: 685.3, x1: 1055.4, axisX: 679.8, tmb: eTmbTotal, tmbRed: eTmbNonsense, tmbMax: 3351, tmbLabelX: 654,
  rows: eRows, pct: ePct, sideX0: 1094, sideX1: 1199.7, sideMax: 102, stripColor: pink,
  side: [
    { key: 'm', values: eSideMissense }, { key: 'n', values: eSideNonsense }, { key: 'i', values: eSideFrameIns },
    { key: 'f', values: eSideFrameDel }, { key: 'd', values: eSideInFrame }, { key: 'h', values: eSideMulti }
  ],
  legend: [
    [['m', 'Missense_Mutation'], ['n', 'Nonsense_Mutation'], ['i', 'Frame_Shift_Ins']],
    [['f', 'Frame_Shift_Del'], ['d', 'In_Frame_Del'], ['h', 'Multi_Hit']]
  ],
  legendSq: [636, 781], legendTx: [651.3, 796.4], riskX: 945.5
});
</script>
</body>
</html>
